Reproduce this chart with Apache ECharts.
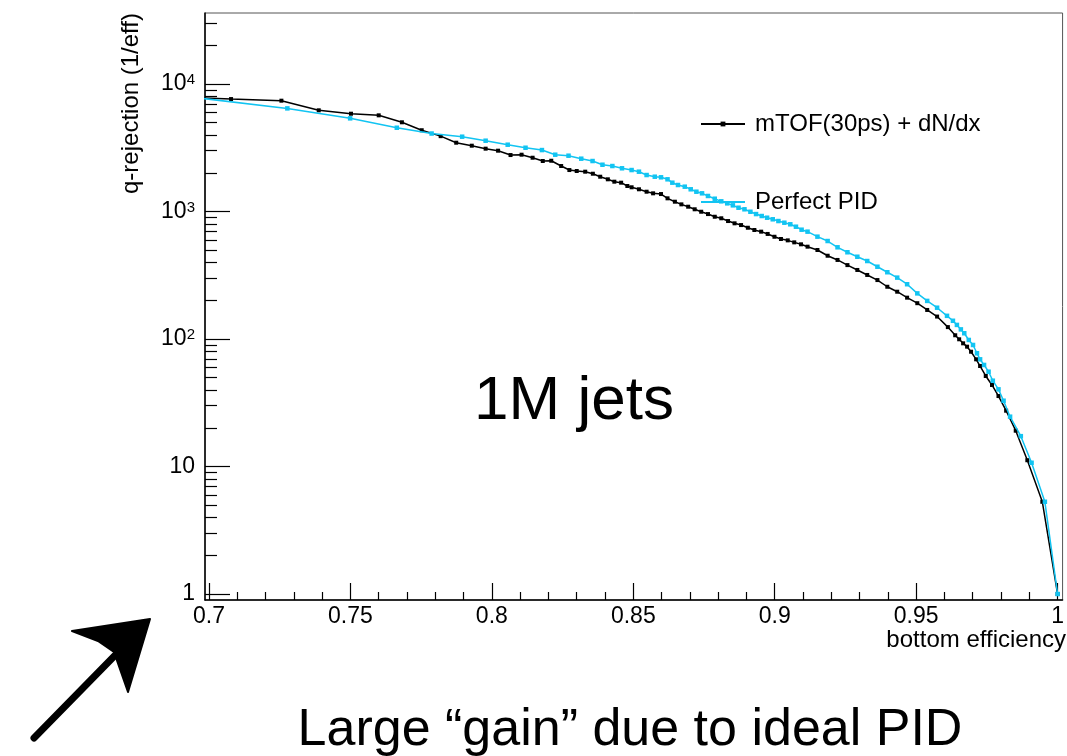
<!DOCTYPE html>
<html>
<head>
<meta charset="utf-8">
<title>q-rejection vs bottom efficiency</title>
<script src="https://cdn.jsdelivr.net/npm/echarts@6.0.0/dist/echarts.min.js"></script>
<style>
  html, body { margin: 0; padding: 0; background: #fff; }
  #chart { width: 1067px; height: 756px; }
</style>
</head>
<body>
<div id="chart"></div>
<script>
// values (x = bottom efficiency, y = q-rejection)
const tofName = 'mTOF(30ps) + dN/dx'
const tofEff = [0.690, 0.7078, 0.7256, 0.7388, 0.7502, 0.7600, 0.7682, 0.7752, 0.7819, 0.7874,
  0.7929, 0.7978, 0.8022, 0.8066, 0.8105, 0.8144, 0.8180, 0.8210, 0.8245, 0.8274,
  0.8300, 0.8330, 0.8357, 0.8383, 0.8410, 0.8433, 0.8457, 0.8479, 0.8494, 0.8520,
  0.8547, 0.8570, 0.8598, 0.8621, 0.8647, 0.8670, 0.8694, 0.8717, 0.8740, 0.8764,
  0.8788, 0.8811, 0.8835, 0.8858, 0.8881, 0.8905, 0.8928, 0.8952, 0.8975, 0.8999,
  0.9022, 0.9046, 0.9069, 0.9093, 0.9116, 0.9151, 0.9187, 0.9222, 0.9257, 0.9292,
  0.9327, 0.9363, 0.9398, 0.9433, 0.9468, 0.9504, 0.9539, 0.9574, 0.9612, 0.9638,
  0.9652, 0.9666, 0.9680, 0.9694, 0.9712, 0.9726, 0.9746, 0.9768, 0.9791, 0.9818,
  0.9852, 0.9893, 0.9946, 1.0]
const tofRej = [7900, 7620, 7400, 6220, 5850, 5680, 5010, 4340, 3900, 3465,
  3283, 3111, 3000, 2773, 2790, 2642, 2489, 2502, 2274, 2115,
  2078, 2053, 1979, 1875, 1789, 1714, 1683, 1585, 1549, 1494,
  1430, 1389, 1371, 1269, 1194, 1138, 1091, 1041, 996, 955,
  910, 885, 842, 808, 783, 746, 716, 695, 667, 634,
  609, 594, 573, 553, 530, 499, 450, 417, 380, 348,
  318, 290, 257, 235, 211, 191, 169, 150, 124, 107,
  99.5, 92.5, 87.1, 79.5, 69.3, 61.4, 51.3, 43.6, 35.7, 27.4,
  19.1, 11.2, 5.29, 1.0]

const pidName = 'Perfect PID'
const pidEff = [0.690, 0.7277, 0.7499, 0.7664, 0.7787, 0.7895, 0.7978, 0.8056, 0.8119, 0.8177,
  0.8224, 0.8271, 0.8316, 0.8356, 0.8391, 0.8426, 0.8460, 0.8494, 0.8520, 0.8547,
  0.8576, 0.8598, 0.8621, 0.8638, 0.8658, 0.8682, 0.8703, 0.8723, 0.8743, 0.8764,
  0.8788, 0.8811, 0.8832, 0.8852, 0.8872, 0.8893, 0.8914, 0.8934, 0.8954, 0.8973,
  0.8993, 0.9013, 0.9034, 0.9055, 0.9075, 0.9095, 0.9116, 0.9151, 0.9187, 0.9222,
  0.9257, 0.9292, 0.9327, 0.9363, 0.9398, 0.9433, 0.9468, 0.9504, 0.9539, 0.9574,
  0.9609, 0.9630, 0.9644, 0.9658, 0.9670, 0.9686, 0.9701, 0.9715, 0.9726, 0.9740,
  0.9756, 0.9771, 0.9791, 0.9809, 0.9832, 0.9870, 0.9908, 0.9955, 1.0]
const pidRej = [8070, 6440, 5380, 4540, 4090, 3863, 3592, 3342, 3164, 3034,
  2790, 2740, 2596, 2489, 2328, 2274, 2183, 2115, 2053, 1933,
  1875, 1855, 1789, 1683, 1614, 1566, 1494, 1430, 1389, 1324,
  1260, 1202, 1159, 1118, 1071, 1041, 996, 955, 922, 894,
  869, 842, 817, 794, 760, 720, 695, 635, 587, 524,
  479, 442, 409, 369, 334, 303, 269, 228, 199, 176,
  152, 139, 129, 119, 111, 98.3, 89.8, 77.3, 69.3, 62.6,
  55.4, 47.1, 40.3, 32.8, 24.6, 17.3, 10.7, 5.29, 1.0]

// tick labels
const xLabelValues = [0.7, 0.75, 0.8, 0.85, 0.9, 0.95, 1]
const yLabelValues = [1, 10, 100, 1000, 10000]

// ROOT-like frame: the axis ranges run a bit past 0.7..1 and 1..10^4
const xMin = 0.69859, xMax = 1.00176
const yMin = 0.8975, yMax = 36060

const xMinorTicks = []
for (let i = 71; i < 100; i++) if (i % 5) xMinorTicks.push(i / 100)
const yMinorTicks = []
for (let d = 0; d <= 4; d++) {
  for (let m = 2; m <= 9; m++) {
    const v = m * Math.pow(10, d)
    if (v < yMax) yMinorTicks.push(v)
  }
}

const font = "'Liberation Sans', Arial, Helvetica, sans-serif"
const ink = '#000'
const cyan = '#12c4f2'

const chart = echarts.init(document.getElementById('chart'))

chart.setOption({
  animation: false,
  backgroundColor: '#fff',
  grid: {
    left: 205, right: 1, top: 13, bottom: 156,
    show: true, borderColor: '#555', borderWidth: 1
  },
  legend: [
    {
      data: [{ name: tofName }],
      left: 700, top: 112, padding: 0,
      itemWidth: 44, itemHeight: 6,
      selectedMode: false,
      textStyle: { fontFamily: font, fontSize: 24, color: ink, padding: [0, 0, 0, 5] }
    },
    {
      data: [{ name: pidName, itemStyle: { opacity: 0 } }],
      left: 700, top: 190, padding: 0,
      itemWidth: 44, itemHeight: 6,
      selectedMode: false,
      textStyle: { fontFamily: font, fontSize: 24, color: ink, padding: [0, 0, 0, 5] }
    }
  ],
  xAxis: [
    {
      type: 'value', min: xMin, max: xMax,
      axisLine: { show: true, onZero: false, lineStyle: { color: ink, width: 1.5 } },
      axisTick: { inside: true, length: 17, customValues: xLabelValues, lineStyle: { color: ink, width: 1.2 } },
      axisLabel: {
        customValues: xLabelValues, margin: 5,
        fontFamily: font, fontSize: 23, color: ink,
        formatter: v => String(+v.toFixed(2))
      },
      splitLine: { show: false }
    },
    {
      type: 'value', min: xMin, max: xMax, position: 'bottom',
      axisLine: { show: false },
      axisTick: { inside: true, length: 8, customValues: xMinorTicks, lineStyle: { color: ink, width: 1.2 } },
      axisLabel: { show: false },
      splitLine: { show: false }
    }
  ],
  yAxis: [
    {
      type: 'log', logBase: 10, min: yMin, max: yMax,
      axisLine: { show: true, onZero: false, lineStyle: { color: ink, width: 1.5 } },
      axisTick: { inside: true, length: 25, customValues: yLabelValues, lineStyle: { color: ink, width: 1.2 } },
      axisLabel: {
        customValues: yLabelValues, margin: 10,
        fontFamily: font, fontSize: 23, color: ink,
        formatter: v => {
          const e = Math.round(Math.log10(v))
          return e < 2 ? '{b|' + Math.round(v) + '}' : '{b|10}{s|' + e + '}'
        },
        rich: {
          b: { fontFamily: font, fontSize: 23, color: ink, lineHeight: 23, verticalAlign: 'bottom' },
          s: { fontFamily: font, fontSize: 15, color: ink, lineHeight: 15, verticalAlign: 'top', padding: [0, 0, 14, 0] }
        }
      },
      splitLine: { show: false }
    },
    {
      type: 'log', logBase: 10, min: yMin, max: yMax, position: 'left',
      axisLine: { show: false },
      axisTick: { inside: true, length: 12, customValues: yMinorTicks, lineStyle: { color: ink, width: 1.2 } },
      axisLabel: { show: false },
      splitLine: { show: false }
    }
  ],
  series: [
    {
      name: tofName, type: 'line',
      xAxisIndex: 0, yAxisIndex: 0,
      data: tofEff.map((x, i) => [x, tofRej[i]]),
      symbol: 'rect', symbolSize: 4, showSymbol: true,
      lineStyle: { color: ink, width: 1.5 },
      itemStyle: { color: ink },
      z: 3
    },
    {
      name: pidName, type: 'line',
      xAxisIndex: 0, yAxisIndex: 0,
      data: pidEff.map((x, i) => [x, pidRej[i]]),
      symbol: 'rect', symbolSize: 4.5, showSymbol: true,
      lineStyle: { color: cyan, width: 1.5 },
      itemStyle: { color: cyan },
      z: 4
    }
  ],
  graphic: [
    {
      type: 'text', x: 131, y: 13, rotation: Math.PI / 2,
      style: { text: 'q-rejection (1/eff)', font: '24px ' + font, fill: ink, textAlign: 'right', textVerticalAlign: 'middle' }
    },
    {
      type: 'text', x: 1066, y: 640,
      style: { text: 'bottom efficiency', font: '24px ' + font, fill: ink, textAlign: 'right', textVerticalAlign: 'middle' }
    },
    {
      type: 'text', x: 574, y: 402,
      style: { text: '1M jets', font: '62px ' + font, fill: ink, textAlign: 'center', textVerticalAlign: 'middle' }
    },
    {
      type: 'text', x: 630, y: 731,
      style: { text: 'Large \u201cgain\u201d due to ideal PID', font: '52px ' + font, fill: ink, textAlign: 'center', textVerticalAlign: 'middle' }
    },
    // hand-drawn arrow pointing at the plot
    {
      type: 'line', shape: { x1: 34, y1: 738, x2: 132, y2: 638 },
      style: { stroke: ink, lineWidth: 7, lineCap: 'round' }
    },
    {
      type: 'polygon',
      shape: { points: [[150, 619], [72, 631], [98, 641], [114, 652], [128, 692]] },
      style: { fill: ink, stroke: ink, lineWidth: 2, lineJoin: 'round' }
    }
  ]
})
</script>
</body>
</html>
